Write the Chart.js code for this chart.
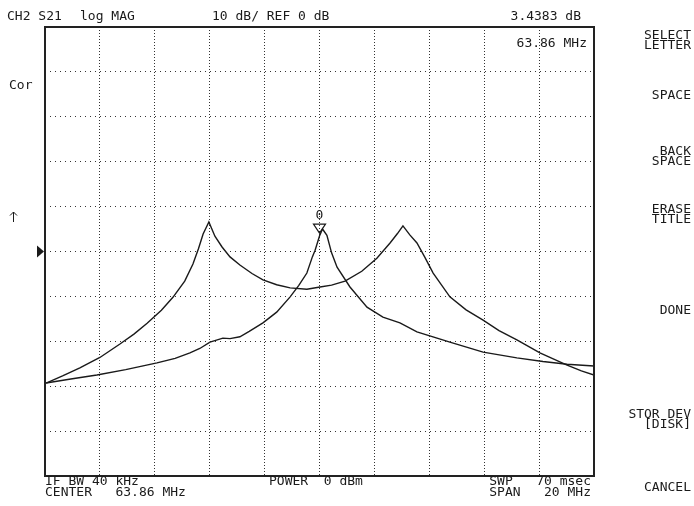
<!DOCTYPE html>
<html>
<head>
<meta charset="utf-8">
<script src="https://cdn.jsdelivr.net/npm/chart.js@4.4.1/dist/chart.umd.min.js"></script>
<style>
  html, body { margin: 0; padding: 0; background: #fff; }
  canvas { display: block; }
</style>
</head>
<body>
<canvas id="c" width="694" height="506"></canvas>
<script>
// frequency axis (MHz): center 63.86, span 20
const xTicks = [53.86, 55.86, 57.86, 59.86, 61.86, 63.86, 65.86, 67.86, 69.86, 71.86, 73.86]
const yTicks = [-50, -40, -30, -20, -10, 0, 10, 20, 30, 40, 50]

// double-peaked trace
const freqA = [53.90, 54.50, 55.13, 55.86, 56.59, 57.10, 57.58, 58.10, 58.52, 58.95, 59.25, 59.45,
    59.62, 59.83, 60.05, 60.31, 60.60, 60.96, 61.40, 61.80, 62.30, 62.79, 63.40, 63.88, 64.30,
    64.79, 65.40, 65.95, 66.43, 66.70, 66.90, 67.15, 67.41, 67.70, 68.00, 68.61, 69.20, 69.82,
    70.40, 71.05, 71.89, 72.88, 73.40, 73.86]
const magA = [-29.3, -27.7, -25.9, -23.6, -20.6, -18.4, -16.0, -13.1, -10.2, -6.6, -2.8, 0.6,
    3.9, 6.6, 3.4, 1.0, -1.2, -3.0, -4.9, -6.3, -7.4, -8.1, -8.4, -7.9, -7.5,
    -6.6, -4.4, -1.5, 1.9, 4.0, 5.7, 3.7, 1.9, -1.3, -4.8, -10.1, -13.0, -15.3,
    -17.6, -19.7, -22.6, -25.3, -26.6, -27.5]

// single center peak trace
const freqB = [53.90, 54.80, 55.75, 56.80, 57.94, 58.60, 59.14, 59.50, 59.87, 60.34, 60.60, 60.96,
    61.30, 61.80, 62.30, 62.79, 63.10, 63.40, 63.60, 63.70, 63.86, 63.97, 64.13, 64.30, 64.50,
    64.97, 65.59, 66.17, 66.79, 67.41, 68.61, 69.82, 71.05, 72.00, 72.88, 73.86]
const magB = [-29.3, -28.4, -27.5, -26.3, -24.8, -23.8, -22.6, -21.6, -20.2, -19.3, -19.4, -19.0,
    -17.8, -15.9, -13.5, -10.1, -7.6, -4.8, -1.2, 0.3, 3.44, 5.0, 3.6, -0.3, -3.5,
    -7.9, -12.4, -14.6, -15.9, -17.9, -20.2, -22.4, -23.7, -24.5, -25.1, -25.5]

const markerFreq = 63.86
const markerMag = 3.4383

const FONT = '13px "DejaVu Sans Mono"'
const INK = '#1a1a1a'

const toPoints = (xs, ys) => xs.map((x, i) => ({ x: x, y: ys[i] }))

const analyzerPlugin = {
    id: 'analyzer',
    beforeDraw(chart) {
        const ctx = chart.ctx
        ctx.save()
        ctx.fillStyle = '#fff'
        ctx.fillRect(0, 0, chart.width, chart.height)
        ctx.restore()
    },
    afterDraw(chart) {
        const ctx = chart.ctx
        const a = chart.chartArea
        const xs = chart.scales.x
        const ys = chart.scales.y
        ctx.save()

        // frame
        ctx.strokeStyle = '#222'
        ctx.lineWidth = 2
        ctx.strokeRect(a.left, a.top, a.right - a.left, a.bottom - a.top)

        ctx.fillStyle = INK
        ctx.strokeStyle = INK
        ctx.font = FONT
        ctx.textBaseline = 'middle'

        // header
        ctx.textAlign = 'left'
        ctx.fillText('CH2 S21', 7, 17)
        ctx.fillText('log MAG', 80, 17)
        ctx.fillText('10 dB/ REF 0 dB', 212, 17)
        ctx.textAlign = 'right'
        ctx.fillText('3.4383 dB', 581, 17)
        ctx.fillText('63.86 MHz', 587, 44)

        // left annotations
        ctx.textAlign = 'left'
        ctx.fillText('Cor', 9, 86)
        ctx.lineWidth = 1
        ctx.beginPath()
        ctx.moveTo(13.5, 212)
        ctx.lineTo(13.5, 222)
        ctx.moveTo(10, 215.5)
        ctx.lineTo(13.5, 212)
        ctx.lineTo(17, 215.5)
        ctx.stroke()

        // reference position marker
        const ry = ys.getPixelForValue(0)
        ctx.beginPath()
        ctx.moveTo(37, ry - 6)
        ctx.lineTo(44, ry)
        ctx.lineTo(37, ry + 6)
        ctx.closePath()
        ctx.fill()

        // marker 0
        const mx = xs.getPixelForValue(markerFreq)
        const my = ys.getPixelForValue(markerMag) - 3
        ctx.lineWidth = 1.2
        ctx.beginPath()
        ctx.moveTo(mx, my)
        ctx.lineTo(mx - 6, my - 9)
        ctx.lineTo(mx + 6, my - 9)
        ctx.closePath()
        ctx.stroke()
        ctx.textAlign = 'center'
        ctx.fillText('0', mx, my - 17)

        // bottom annotations
        ctx.textAlign = 'left'
        ctx.fillText('IF BW 40 kHz', 45, 482)
        ctx.fillText('CENTER   63.86 MHz', 45, 493)
        ctx.fillText('POWER  0 dBm', 269, 482)
        ctx.textAlign = 'right'
        ctx.fillText('SWP   70 msec', 591, 482)
        ctx.fillText('SPAN   20 MHz', 591, 493)

        // softkeys
        const keys = [
            ['SELECT', 36], ['LETTER', 46], ['SPACE', 96], ['BACK', 152], ['SPACE', 162],
            ['ERASE', 210], ['TITLE', 220], ['DONE', 311], ['STOR DEV', 415], ['[DISK]', 425],
            ['CANCEL', 488]
        ]
        keys.forEach(([t, y]) => ctx.fillText(t, 691, y))
        ctx.restore()
    }
}

new Chart(document.getElementById('c'), {
    type: 'line',
    data: {
        datasets: [
            { data: toPoints(freqA, magA), borderColor: INK, borderWidth: 1.4, pointRadius: 0, tension: 0 },
            { data: toPoints(freqB, magB), borderColor: INK, borderWidth: 1.4, pointRadius: 0, tension: 0 }
        ]
    },
    options: {
        responsive: false,
        animation: false,
        events: [],
        layout: { padding: { left: 45, right: 100, top: 27, bottom: 30 } },
        plugins: { legend: { display: false }, tooltip: { enabled: false } },
        scales: {
            x: {
                type: 'linear',
                min: xTicks[0],
                max: xTicks[xTicks.length - 1],
                afterBuildTicks: (axis) => { axis.ticks = xTicks.map(v => ({ value: v })) },
                ticks: { display: false },
                grid: { color: '#333', lineWidth: 1, drawTicks: false },
                border: { display: false, dash: [1, 2] }
            },
            y: {
                min: yTicks[0],
                max: yTicks[yTicks.length - 1],
                afterBuildTicks: (axis) => { axis.ticks = yTicks.map(v => ({ value: v })) },
                ticks: { display: false },
                grid: { color: '#333', lineWidth: 1, drawTicks: false },
                border: { display: false, dash: [1, 4] }
            }
        }
    },
    plugins: [analyzerPlugin]
})
</script>
</body>
</html>
